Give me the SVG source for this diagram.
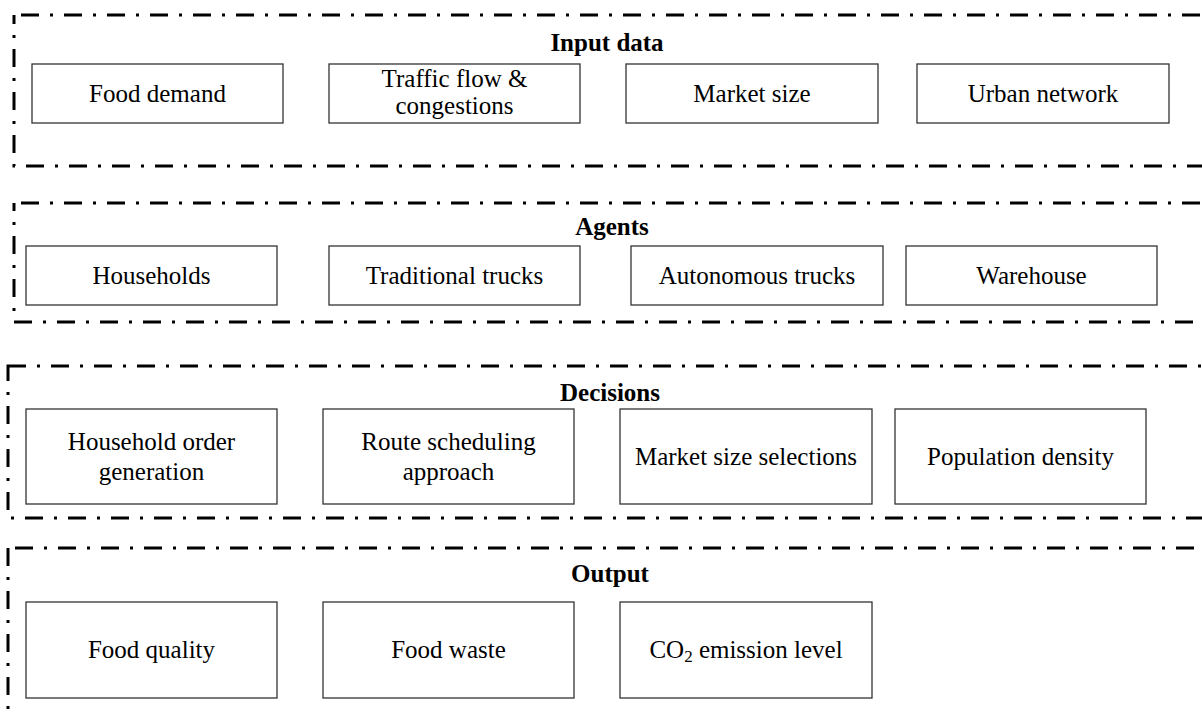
<svg xmlns="http://www.w3.org/2000/svg" width="1202" height="715" viewBox="0 0 1202 715">
<style>
.sec{fill:none;stroke:#000;stroke-width:3;stroke-dasharray:18 11 3 11;}
.box{fill:#fff;stroke:#333;stroke-width:1.3;}
.t{font-family:"Liberation Serif","Times New Roman",serif;font-size:25px;fill:#000;text-anchor:middle;}
.h{font-family:"Liberation Serif","Times New Roman",serif;font-size:25px;font-weight:bold;fill:#000;text-anchor:middle;}
</style>
<rect width="1202" height="715" fill="#fff"/>
<g id="sections">
<rect class="sec" x="14" y="15" width="1190" height="151" stroke-dashoffset="-7"/>
<rect class="sec" x="14" y="203" width="1200" height="119" stroke-dashoffset="-7"/>
<rect class="sec" x="8" y="366" width="1210" height="152"/>
<rect class="sec" x="8" y="548" width="1210" height="200" stroke-dashoffset="-7"/>
</g>
<g id="titles">
<text class="h" x="607" y="51">Input data</text>
<text class="h" x="612" y="235">Agents</text>
<text class="h" x="610" y="401">Decisions</text>
<text class="h" x="610" y="582">Output</text>
</g>
<g id="n-food-demand"><rect class="box" x="32" y="64" width="251" height="59"/><text class="t" x="157.5" y="102">Food demand</text></g>
<g id="n-traffic"><rect class="box" x="329" y="64" width="251" height="59"/><text class="t" x="454.5" y="87">Traffic flow &amp;</text><text class="t" x="454.5" y="114">congestions</text></g>
<g id="n-market-size"><rect class="box" x="626" y="64" width="252" height="59"/><text class="t" x="752" y="102">Market size</text></g>
<g id="n-urban"><rect class="box" x="917" y="64" width="252" height="59"/><text class="t" x="1043" y="102">Urban network</text></g>

<g id="n-households"><rect class="box" x="26" y="246" width="251" height="59"/><text class="t" x="151.5" y="284">Households</text></g>
<g id="n-traditional"><rect class="box" x="329" y="246" width="251" height="59"/><text class="t" x="454.5" y="284">Traditional trucks</text></g>
<g id="n-autonomous"><rect class="box" x="631" y="246" width="252" height="59"/><text class="t" x="757" y="284">Autonomous trucks</text></g>
<g id="n-warehouse"><rect class="box" x="906" y="246" width="251" height="59"/><text class="t" x="1031.5" y="284">Warehouse</text></g>

<g id="n-order"><rect class="box" x="26" y="409" width="251" height="95"/><text class="t" x="151.5" y="450">Household order</text><text class="t" x="151.5" y="480">generation</text></g>
<g id="n-route"><rect class="box" x="323" y="409" width="251" height="95"/><text class="t" x="448.5" y="450">Route scheduling</text><text class="t" x="448.5" y="480">approach</text></g>
<g id="n-market-sel"><rect class="box" x="620" y="409" width="252" height="95"/><text class="t" x="746" y="465">Market size selections</text></g>
<g id="n-population"><rect class="box" x="895" y="409" width="251" height="95"/><text class="t" x="1020.5" y="465">Population density</text></g>

<g id="n-quality"><rect class="box" x="26" y="602" width="251" height="96"/><text class="t" x="151.5" y="658">Food quality</text></g>
<g id="n-waste"><rect class="box" x="323" y="602" width="251" height="96"/><text class="t" x="448.5" y="658">Food waste</text></g>
<g id="n-co2"><rect class="box" x="620" y="602" width="252" height="96"/><text class="t" x="746" y="658">CO<tspan font-size="17" dy="4">2</tspan><tspan dy="-4"> emission level</tspan></text></g>
<g id="connectors"></g>
</svg>
